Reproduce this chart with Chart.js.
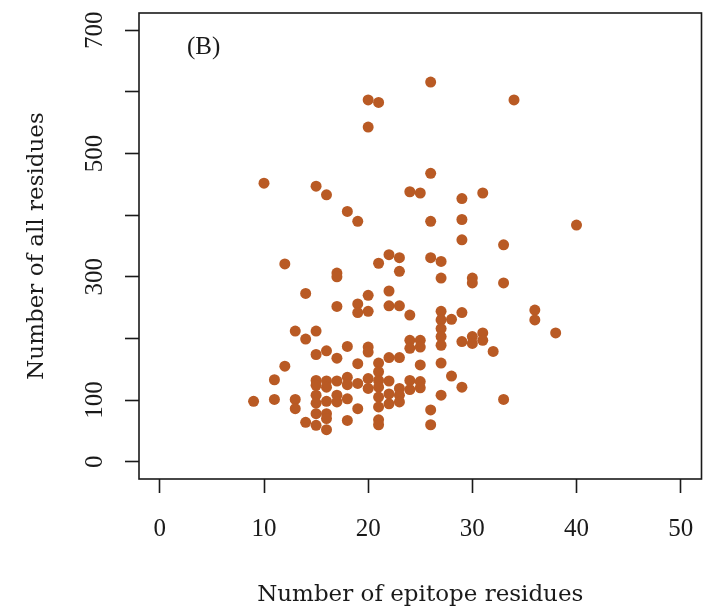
<!DOCTYPE html>
<html>
<head>
<meta charset="utf-8">
<script src="https://cdn.jsdelivr.net/npm/chart.js@4.4.1/dist/chart.umd.min.js"></script>
<style>
  html, body { margin: 0; padding: 0; background: #fff; overflow: hidden; }
  #wrap { width: 704px; height: 606px; }
</style>
</head>
<body>
<div id="wrap"><canvas id="scatterChart"></canvas></div>
<script>
// epitope residues (x) and all residues (y), one entry per antigen
const epitopeResidues = [
    9, 10, 11, 11, 12, 12, 13, 13, 13, 14, 14, 14,
    15, 15, 15, 15, 15, 15, 15, 15, 15,
    16, 16, 16, 16, 16, 16, 16, 16,
    17, 17, 17, 17, 17, 17, 17,
    18, 18, 18, 18, 18, 18,
    19, 19, 19, 19, 19, 19,
    20, 20, 20, 20, 20, 20, 20, 20,
    21, 21, 21, 21, 21, 21, 21, 21, 21, 21,
    22, 22, 22, 22, 22, 22, 22,
    23, 23, 23, 23, 23, 23, 23,
    24, 24, 24, 24, 24, 24,
    25, 25, 25, 25, 25, 25,
    26, 26, 26, 26, 26, 26,
    27, 27, 27, 27, 27, 27, 27, 27, 27,
    28, 28,
    29, 29, 29, 29, 29, 29,
    30, 30, 30, 30,
    31, 31, 31,
    32,
    33, 33, 33,
    34,
    36, 36,
    38,
    40
];
const allResidues = [
    98, 452, 133, 101, 321, 155, 212, 101, 86, 273, 199, 64,
    447, 212, 174, 132, 124, 108, 95, 78, 59,
    433, 180, 131, 121, 98, 78, 70, 52,
    306, 300, 252, 168, 131, 108, 97,
    406, 187, 137, 125, 102, 67,
    390, 256, 242, 159, 127, 86,
    587, 543, 270, 244, 186, 178, 135, 119,
    583, 322, 160, 146, 132, 121, 105, 89, 68, 60,
    336, 277, 253, 169, 131, 110, 94,
    331, 309, 253, 169, 119, 108, 97,
    438, 238, 197, 184, 132, 117,
    436, 197, 186, 157, 130, 120,
    616, 468, 390, 331, 84, 60,
    325, 298, 244, 230, 216, 203, 189, 160, 108,
    231, 139,
    427, 393, 360, 242, 195, 121,
    298, 290, 203, 192,
    436, 209, 197,
    179,
    352, 290, 101,
    587,
    246, 230,
    209,
    384
];

const xTicks = [0, 10, 20, 30, 40, 50];
const yTicks = [0, 100, 200, 300, 400, 500, 600, 700];
const yTickLabels = ['0', '100', '', '300', '', '500', '', '700'];

const xTitle = 'Number of epitope residues';
const yTitle = 'Number of all residues';
const panelLabel = '(B)';

const NUM_FONT = '"Liberation Serif", "DejaVu Serif", serif';
const TEXT_FONT = '"DejaVu Serif", "Liberation Serif", serif';
const INK = '#1a1a1a';

const points = epitopeResidues.map((x, i) => ({ x: x, y: allResidues[i] }));

// box, rotated y labels, axis titles, panel tag
const rFrame = {
    id: 'rFrame',
    afterDraw(chart) {
        const c = chart.ctx;
        const a = chart.chartArea;
        const ys = chart.scales.y;
        const xs = chart.scales.x;
        c.save();
        c.strokeStyle = INK;
        c.lineWidth = 1.6;
        c.strokeRect(a.left, a.top, a.right - a.left, a.bottom - a.top);

        c.fillStyle = INK;
        c.font = '25px ' + NUM_FONT;
        c.textAlign = 'center';
        c.textBaseline = 'alphabetic';
        yTicks.forEach((v, i) => {
            if (!yTickLabels[i]) return;
            const py = ys.getPixelForValue(v);
            c.save();
            c.translate(101.5, py);
            c.rotate(-Math.PI / 2);
            c.fillText(yTickLabels[i], 0, 0);
            c.restore();
        });

        c.font = '23px ' + TEXT_FONT;
        c.save();
        c.translate(43, (a.top + a.bottom) / 2);
        c.rotate(-Math.PI / 2);
        c.fillText(yTitle, 0, 0);
        c.restore();

        c.fillText(xTitle, (a.left + a.right) / 2, 601);

        c.font = '25px ' + NUM_FONT;
        c.textBaseline = 'middle';
        c.fillText(panelLabel, xs.getPixelForValue(4.2), ys.getPixelForValue(672));
        c.restore();
    }
};

new Chart(document.getElementById('scatterChart'), {
    type: 'scatter',
    data: {
        datasets: [{
            data: points,
            backgroundColor: '#b95a24',
            borderWidth: 0,
            pointRadius: 5.5,
            pointHoverRadius: 5.5
        }]
    },
    options: {
        responsive: true,
        maintainAspectRatio: false,
        animation: false,
        events: [],
        layout: { autoPadding: false, padding: { top: 13, right: 2.5, left: 0, bottom: 0 } },
        plugins: {
            legend: { display: false },
            tooltip: { enabled: false }
        },
        scales: {
            x: {
                type: 'linear',
                min: -2,
                max: 52,
                afterBuildTicks: s => { s.ticks = xTicks.map(v => ({ value: v })); },
                afterFit: s => {
                    s.height = 127;
                    s.paddingLeft = 0;
                    s.paddingRight = 0;
                },
                border: { display: false },
                grid: {
                    drawOnChartArea: false,
                    drawTicks: true,
                    tickLength: 14,
                    tickColor: INK,
                    tickWidth: 1.6
                },
                ticks: {
                    color: INK,
                    font: { family: NUM_FONT, size: 25 },
                    padding: 21,
                    maxRotation: 0,
                    autoSkip: false
                }
            },
            y: {
                type: 'linear',
                min: -28,
                max: 728,
                afterBuildTicks: s => { s.ticks = yTicks.map(v => ({ value: v })); },
                afterFit: s => {
                    s.width = 139;
                    s.paddingTop = 0;
                    s.paddingBottom = 0;
                },
                border: { display: false },
                grid: {
                    drawOnChartArea: false,
                    drawTicks: true,
                    tickLength: 14,
                    tickColor: INK,
                    tickWidth: 1.6
                },
                ticks: { display: false }
            }
        }
    },
    plugins: [rFrame]
});
</script>
</body>
</html>
